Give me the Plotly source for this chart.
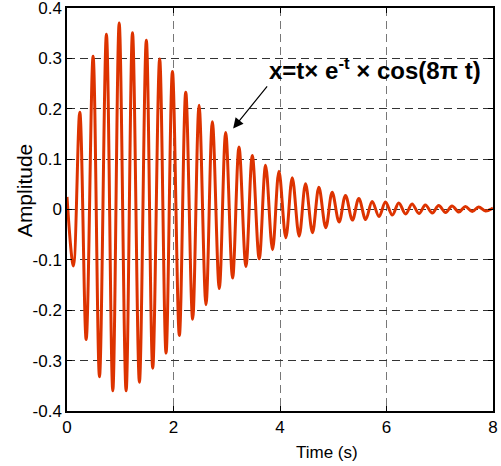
import plotly.graph_objects as go

# Extrema of the signal (time in s, amplitude)
t_points = [0.00, 0.12, 0.24, 0.36, 0.49, 0.61, 0.74, 0.86, 0.98, 1.11,
            1.23, 1.36, 1.49, 1.61, 1.74, 1.86, 1.98, 2.11, 2.23, 2.36,
            2.48, 2.61, 2.73, 2.86, 2.98, 3.11, 3.23, 3.36, 3.48, 3.61,
            3.73, 3.86, 3.98, 4.11, 4.23, 4.36, 4.48, 4.61, 4.73, 4.86,
            4.98, 5.11, 5.23, 5.36, 5.48, 5.61, 5.73, 5.86, 5.98, 6.11,
            6.23, 6.36, 6.48, 6.61, 6.73, 6.86, 6.98, 7.11, 7.23, 7.36,
            7.48, 7.61, 7.73, 7.86, 8.00]
amplitude = [0.025, -0.112, 0.193, -0.258, 0.304, -0.332, 0.348, -0.360, 0.370, -0.360,
             0.351, -0.343, 0.336, -0.315, 0.299, -0.285, 0.274, -0.250, 0.233, -0.218,
             0.207, -0.189, 0.174, -0.157, 0.153, -0.136, 0.124, -0.113, 0.107, -0.098,
             0.088, -0.080, 0.076, -0.056, 0.063, -0.053, 0.051, -0.046, 0.044, -0.036,
             0.034, -0.025, 0.028, -0.021, 0.022, -0.020, 0.016, -0.014, 0.015, -0.011,
             0.013, -0.009, 0.011, -0.008, 0.009, -0.007, 0.008, -0.006, 0.007, -0.005,
             0.006, -0.004, 0.005, -0.003, 0.003]

x_ticks = [0, 2, 4, 6, 8]
y_ticks = [-0.4, -0.3, -0.2, -0.1, 0, 0.1, 0.2, 0.3, 0.4]
y_tick_labels = ["-0.4", "-0.3", "-0.2", "-0.1", "0", "0.1", "0.2", "0.3", "0.4"]

FONT = "Liberation Sans, Arial, Helvetica, sans-serif"

fig = go.Figure()
fig.add_trace(go.Scatter(
    x=t_points, y=amplitude, mode="lines",
    line=dict(color="#dd3300", width=3, shape="spline", smoothing=1.0),
    showlegend=False, hoverinfo="skip"))

axis_common = dict(
    showline=True, linecolor="black", linewidth=1.5, mirror="ticks",
    ticks="inside", ticklen=5, tickcolor="black", tickwidth=1,
    showgrid=True, griddash="8px,5px", gridwidth=1,
    zeroline=False, tickfont=dict(family=FONT, size=17, color="black"),
    automargin=False, ticklabeloverflow="allow",
)

fig.update_xaxes(range=[0, 8], tickvals=x_ticks, gridcolor="#777777", **axis_common)
fig.update_yaxes(range=[-0.4, 0.4], tickvals=y_ticks, ticktext=y_tick_labels,
                 gridcolor="#333333", **axis_common)

# axis titles
fig.add_annotation(x=-0.101, y=0.548, xref="paper", yref="paper", text="Amplitude",
                   textangle=-90, showarrow=False, xanchor="center", yanchor="middle",
                   font=dict(family=FONT, size=21, color="black"))
fig.add_annotation(x=0.610, y=-0.104, xref="paper", yref="paper", text="Time (s)",
                   showarrow=False, xanchor="center", yanchor="middle",
                   font=dict(family=FONT, size=17, color="black"))

# formula label with arrow (tail at lower-left of text)
fig.add_annotation(x=3.12, y=0.161, xref="x", yref="y",
                   text="<b>x=t× e<sup>-t</sup> × cos(8π t)</b>",
                   font=dict(family=FONT, size=24, color="black"),
                   showarrow=True, arrowhead=2, arrowsize=1.7, arrowwidth=1.2,
                   arrowcolor="black", ax=34, ay=-42, standoff=0,
                   xanchor="left", yanchor="bottom")

fig.update_layout(
    width=501, height=466,
    margin=dict(l=67, r=8, t=8, b=55),
    paper_bgcolor="white", plot_bgcolor="white",
)

fig.write_html("out.html", config={"displayModeBar": False},
               post_script="document.body.style.margin='0';")
